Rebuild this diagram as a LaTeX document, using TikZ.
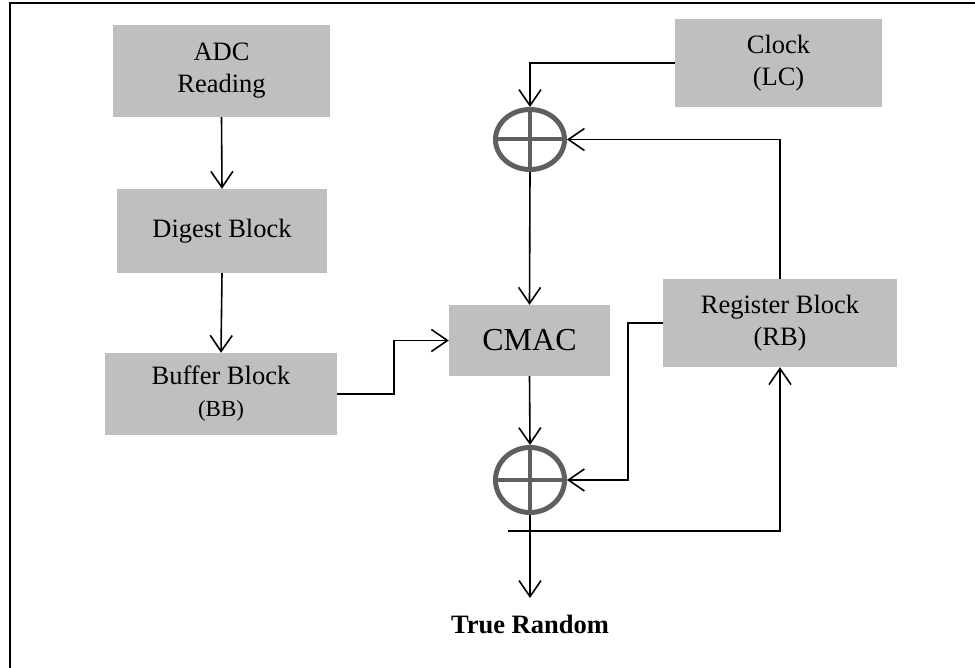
\documentclass[tikz,border=0pt]{standalone}
\usepackage{fontspec}
\setmainfont{Liberation Serif}
\usetikzlibrary{arrows.meta,shapes.geometric}

\begin{document}
\begin{tikzpicture}[x=1pt,y=-1pt,
  blk/.style={fill=boxgray,inner sep=0pt,align=center,font=\fontsize{26.5}{32}\selectfont},
  xorgate/.style={ellipse,draw=xorgray,line width=5pt,inner sep=0pt},
  arr/.style={line width=1.6pt,-{Straight Barb[length=16pt,width=22pt,line width=1.6pt]}}]
\definecolor{boxgray}{RGB}{191,191,191}
\definecolor{xorgray}{RGB}{95,95,95}
\useasboundingbox (0,0) rectangle (975,668);
\draw[line width=2pt] (10,668) -- (10,3) -- (975,3);

\node[blk,minimum width=217pt,minimum height=92pt] (adc) at (221.5,71) {ADC\\Reading};
\node[blk,minimum width=210pt,minimum height=84pt] (digest) at (222,231) {Digest Block};
\node[blk,minimum width=232pt,minimum height=82pt] (buffer) at (221,394) {Buffer Block\\{\fontsize{23}{26}\selectfont (BB)}};
\node[blk,minimum width=161pt,minimum height=71pt,font=\fontsize{32}{36}\selectfont] (cmac) at (529.5,340.5) {CMAC};
\node[blk,minimum width=234pt,minimum height=88pt] (reg) at (780,323) {Register Block\\(RB)};
\node[blk,minimum width=207pt,minimum height=88pt] (clock) at (778.5,63) {Clock\\(LC)};

\node[xorgate,minimum width=69pt,minimum height=60pt] (xora) at (530,139.5) {};
\node[xorgate,minimum width=69pt,minimum height=65pt] (xorb) at (530,480) {};
\draw[xorgray,line width=4pt] (xora.north) -- (xora.south) (xora.west) -- (xora.east);
\draw[xorgray,line width=4pt] (xorb.north) -- (xorb.south) (xorb.west) -- (xorb.east);

\coordinate (tap) at (508,531);
\coordinate (rndin) at (530,598);
\node[font=\fontsize{26.5}{30}\selectfont\bfseries,anchor=base] (random) at (530,633) {True Random};

\draw[arr] (adc.south) -- (digest.north);
\draw[arr] (digest.south) -- (buffer.north);
\draw[arr] (buffer.east) -- ++(57,0) |- (cmac.west);
\draw[arr] (clock.west) -| (xora.north);
\draw[arr] (reg.north) |- (xora.east);
\draw[arr] (xora.south) -- (cmac.north);
\draw[arr] (cmac.south) -- (xorb.north);
\draw[arr] (reg.west) -- ++(-35,0) |- (xorb.east);
\draw[arr] (tap) -| (reg.south);
\draw[arr] (xorb.south) -- (rndin);
\end{tikzpicture}
\end{document}
